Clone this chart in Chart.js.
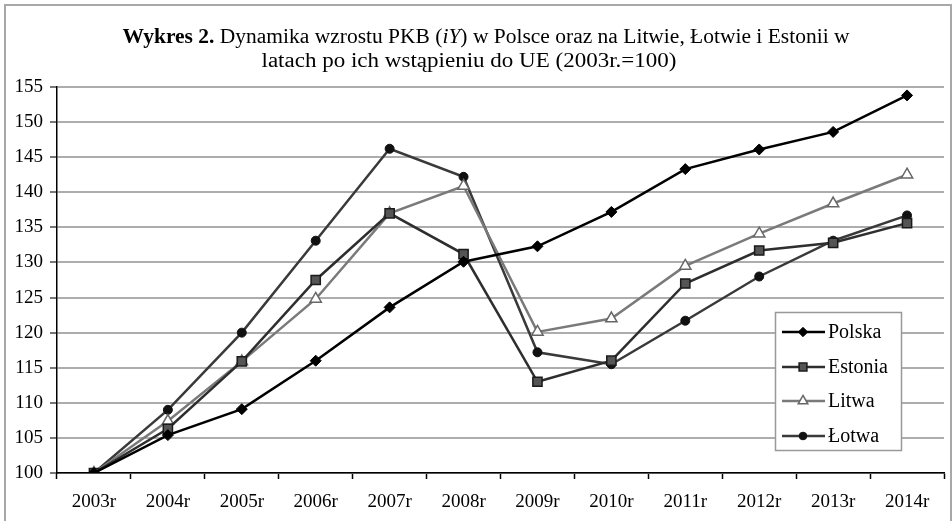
<!DOCTYPE html>
<html>
<head>
<meta charset="utf-8">
<script src="https://cdn.jsdelivr.net/npm/chart.js@4/dist/chart.umd.min.js"></script>
<style>
html,body{margin:0;padding:0;background:#fff;}
#wrap{width:952px;height:521px;position:relative;}
</style>
</head>
<body>
<div id="wrap"><canvas id="c"></canvas></div>
<script>
const categories = ['2003r','2004r','2005r','2006r','2007r','2008r','2009r','2010r','2011r','2012r','2013r','2014r'];
const polska  = [100, 105.4, 109.1, 116.0, 123.6, 130.1, 132.3, 137.2, 143.3, 146.1, 148.6, 153.8];
const estonia = [100, 106.3, 115.9, 127.5, 137.0, 131.2, 113.0, 116.0, 127.0, 131.7, 132.8, 135.6];
const litwa   = [100, 107.4, 115.9, 124.8, 137.0, 140.9, 120.1, 122.0, 129.5, 134.1, 138.4, 142.5];
const lotwa   = [100, 109.0, 120.0, 133.1, 146.2, 142.2, 117.2, 115.5, 121.7, 128.0, 133.1, 136.7];
const seriesNames = ['Polska','Estonia','Litwa','Łotwa'];
const yTicks = {min:100, max:155, step:5};

const FONT = "'Liberation Serif','Times New Roman',serif";

const framePlugin = {
  id:'frame',
  beforeDraw(chart){
    const ctx = chart.ctx;
    ctx.save();
    ctx.fillStyle = '#fff';
    ctx.fillRect(0,0,chart.width,chart.height);
    ctx.strokeStyle = '#a8a8a8';
    ctx.lineWidth = 2;
    ctx.beginPath();
    ctx.moveTo(5, chart.height);
    ctx.lineTo(5, 5);
    ctx.lineTo(951, 5);
    ctx.lineTo(951, chart.height);
    ctx.stroke();
    ctx.restore();
  }
};

function drawRuns(ctx, runs, cx, y, targetW){
  let w = 0;
  runs.forEach(r => { ctx.font = r.f; r.w = ctx.measureText(r.t).width; w += r.w; });
  const sx = targetW ? targetW / w : 1;
  ctx.save();
  ctx.translate(cx - (w*sx)/2, y);
  ctx.scale(sx, 1);
  let x = 0;
  runs.forEach(r => { ctx.font = r.f; ctx.fillText(r.t, x, 0); x += r.w; });
  ctx.restore();
}

const titlePlugin = {
  id:'title2',
  afterDraw(chart){
    const ctx = chart.ctx;
    ctx.save();
    ctx.fillStyle = '#000';
    ctx.textBaseline = 'middle';
    ctx.textAlign = 'left';
    const reg = '20px ' + FONT, bold = 'bold 20px ' + FONT, it = 'italic 20px ' + FONT;
    drawRuns(ctx, [
      {t:'Wykres 2.', f:bold},
      {t:' Dynamika wzrostu PKB (', f:reg},
      {t:'iY', f:it},
      {t:') w Polsce oraz na Litwie, Łotwie i Estonii w', f:reg}
    ], 486, 38, 727);
    drawRuns(ctx, [{t:'latach po ich wstąpieniu do UE (2003r.=100)', f:reg}], 469, 62, 415);
    ctx.restore();
  }
};

const legendPlugin = {
  id:'legendBox',
  afterDraw(chart){
    const ctx = chart.ctx;
    const x0 = 775, y0 = 312, w = 126, h = 138;
    ctx.save();
    ctx.fillStyle = '#fff';
    ctx.fillRect(x0, y0, w, h);
    ctx.strokeStyle = '#999';
    ctx.lineWidth = 1.5;
    ctx.strokeRect(x0+0.5, y0+0.5, w, h);
    const rows = [332, 367, 401, 436];
    chart.data.datasets.forEach((ds, i) => {
      const y = rows[i];
      ctx.strokeStyle = ds.borderColor;
      ctx.lineWidth = ds.borderWidth;
      ctx.beginPath(); ctx.moveTo(782, y); ctx.lineTo(825, y); ctx.stroke();
      ctx.fillStyle = ds.pointBackgroundColor;
      ctx.strokeStyle = ds.pointBorderColor;
      ctx.lineWidth = ds.pointBorderWidth;
      Chart.helpers.drawPoint(ctx, {
        pointStyle: ds.pointStyle, radius: ds.pointRadius * 0.85, rotation: 0,
        borderWidth: ds.pointBorderWidth
      }, 803, y);
      ctx.fillStyle = '#000';
      ctx.font = '20px ' + FONT;
      ctx.textBaseline = 'middle';
      ctx.textAlign = 'left';
      ctx.fillText(ds.label, 828, y + 1);
    });
    ctx.restore();
  }
};

new Chart(document.getElementById('c'), {
  type:'line',
  data:{
    labels: categories,
    datasets:[
      {label:seriesNames[0], data:polska, borderColor:'#000', borderWidth:2.5,
       pointStyle:'rectRot', pointRadius:5.5, pointBackgroundColor:'#000', pointBorderColor:'#000', pointBorderWidth:1, tension:0},
      {label:seriesNames[1], data:estonia, borderColor:'#2e2e2e', borderWidth:2.5,
       pointStyle:'rect', pointRadius:6.5, pointBackgroundColor:'#555', pointBorderColor:'#1a1a1a', pointBorderWidth:1.5, tension:0},
      {label:seriesNames[2], data:litwa, borderColor:'#7a7a7a', borderWidth:2.5,
       pointStyle:'triangle', pointRadius:6.5, pointBackgroundColor:'#fff', pointBorderColor:'#666', pointBorderWidth:1.5, tension:0},
      {label:seriesNames[3], data:lotwa, borderColor:'#3a3a3a', borderWidth:2.5,
       pointStyle:'circle', pointRadius:4.5, pointBackgroundColor:'#111', pointBorderColor:'#111', pointBorderWidth:1, tension:0}
    ]
  },
  options:{
    responsive:true,
    maintainAspectRatio:false,
    animation:false,
    layout:{padding:{top:87, left:0, right:0, bottom:0}},
    plugins:{legend:{display:false}, title:{display:false}, tooltip:{enabled:false}},
    scales:{
      x:{
        offset:true,
        grid:{offset:true, drawOnChartArea:false, drawTicks:true, tickLength:6, tickColor:'#000', tickWidth:1.5},
        border:{color:'#000', width:1.5},
        ticks:{font:{family:FONT, size:19}, color:'#000', padding:12, maxRotation:0, autoSkip:false},
        afterFit(s){ s.height = 48; }
      },
      y:{
        min:yTicks.min, max:yTicks.max,
        grid:{color:'#adadad', lineWidth:2, tickLength:7, tickColor:'#777'},
        border:{color:'#000', width:1.5},
        ticks:{stepSize:yTicks.step, font:{family:FONT, size:19}, color:'#000', padding:7},
        afterFit(s){ s.width = 57; }
      }
    }
  },
  plugins:[framePlugin, titlePlugin, legendPlugin]
});
</script>
</body>
</html>
